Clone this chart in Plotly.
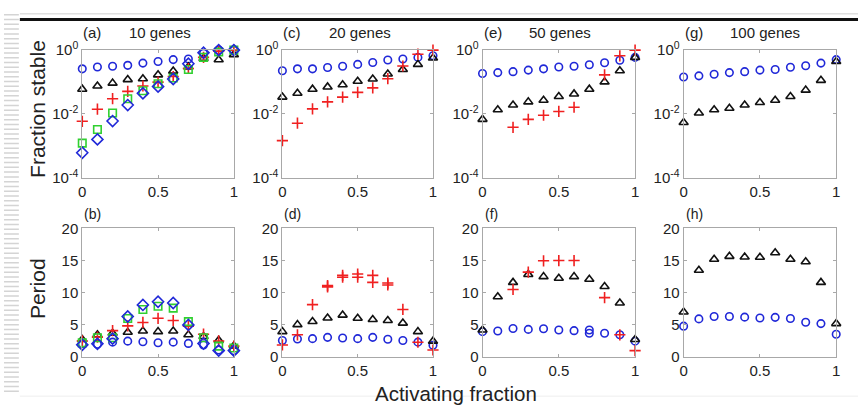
import plotly.graph_objects as go
from plotly.subplots import make_subplots

X = [0.0, 0.1, 0.2, 0.3, 0.4, 0.5, 0.6, 0.7, 0.8, 0.9, 1.0]

# Top row: fraction stable (log)
a_circ = [0.259, 0.297, 0.311, 0.333, 0.391, 0.438, 0.503, 0.526, 0.795, 1.0, 1.0]
a_tri = [0.0597, 0.0751, 0.0923, 0.119, 0.127, 0.168, 0.220, 0.297, 0.55, 0.50, 0.72]
a_plus = [0.0059, 0.0141, 0.030, 0.0508, 0.075, 0.099, 0.149, 0.265, 0.59, 0.93, 1.0]
a_sq = [0.00122, 0.00325, 0.0107, 0.030, 0.0532, 0.088, 0.133, 0.247, 0.59, 0.87, 1.0]
a_dia = [0.00061, 0.0016, 0.0060, 0.019, 0.0443, 0.0718, 0.124, 0.373, 0.83, 1.0, 1.0]

c_circ = [0.225, 0.259, 0.259, 0.284, 0.311, 0.357, 0.409, 0.492, 0.526, 0.59, 0.662]
c_tri = [0.0337, 0.0443, 0.0597, 0.0702, 0.0823, 0.106, 0.124, 0.179, 0.247, 0.357, 0.564]
c_plus = [0.00146, 0.00514, 0.0144, 0.0239, 0.0337, 0.0475, 0.0655, 0.127, 0.318, 0.743, 1.0]

e_circ = [0.184, 0.197, 0.211, 0.236, 0.259, 0.297, 0.311, 0.349, 0.40, 0.481, 0.59]
e_tri = [0.00678, 0.0135, 0.019, 0.0239, 0.0268, 0.0353, 0.0424, 0.0597, 0.101, 0.225, 0.59]
e_plus = [None, None, 0.00382, 0.00678, 0.0091, 0.012, 0.0162, None, 0.168, 0.662, 1.0]

g_circ = [0.143, 0.156, 0.175, 0.197, 0.211, 0.236, 0.247, 0.29, 0.325, 0.391, 0.503]
g_tri = [0.00539, 0.0107, 0.0135, 0.0151, 0.019, 0.0228, 0.0268, 0.0353, 0.0557, 0.113, 0.438]

# Bottom row: period
b_circ = [2.07, 1.98, 2.32, 2.47, 2.37, 2.22, 2.32, 2.12, 1.88, 1.09, 0.99]
b_tri = [2.72, 3.46, 3.7, 3.85, 4.05, 3.95, 4.05, 3.46, 3.2, 2.6, 1.73]
b_plus = [2.5, 3.1, 4.1, 4.84, 5.38, 6.02, 5.68, 4.8, 3.55, 2.5, 1.7]
b_sq = [2.2, 3.0, 3.0, 6.0, 7.4, 7.9, 7.6, 5.5, 3.0, 1.7, 1.4]
b_dia = [1.9, 2.07, 2.86, 6.3, 8.1, 8.6, 8.4, 5.0, 2.1, 1.0, 1.0]

d_circ = [2.57, 2.81, 2.86, 3.06, 2.96, 2.86, 3.06, 2.77, 2.57, 2.32, 1.83]
d_tri = [3.95, 5.04, 5.53, 6.07, 6.52, 6.02, 5.83, 5.68, 5.28, 3.95, 2.47]
d_plus = [1.88, 3.46, 8.15, 11.1, 12.7, 12.9, 12.7, 11.5, 7.4, 2.3, 1.1]
d_plus2 = [None, None, None, 10.9, 12.4, 12.4, 11.6, 11.2, None, None, None]

f_circ = [3.95, 4.05, 4.44, 4.3, 4.4, 4.2, 4.1, 4.2, 3.7, 3.46, 2.47]
f_circ2 = [None, None, None, None, None, None, None, 3.7, None, None, None]
f_tri = [4.2, 9.38, 11.6, 12.84, 12.5, 12.25, 12.5, 12.1, 10.96, 8.4, 2.72]
f_plus = [None, None, 10.5, 13.2, 14.96, 15.0, 15.0, None, 9.23, 3.46, 1.0]

h_circ = [4.8, 5.93, 6.3, 6.3, 6.2, 6.07, 6.17, 6.0, 5.4, 5.2, 3.55]
h_tri = [7.0, 13.5, 15.2, 15.65, 15.55, 15.5, 16.2, 15.2, 14.8, 11.6, 5.2]

top_titles = ["10 genes", "20 genes", "50 genes", "100 genes"]
top_letters = ["(a)", "(c)", "(e)", "(g)"]
bot_letters = ["(b)", "(d)", "(f)", "(h)"]

BLUE = "#2028d8"
RED = "#f02020"
BLACK = "#111111"
GREEN = "#30d030"

STY = {
    "circ": dict(symbol="circle-open", size=7.5, color=BLUE),
    "tri": dict(symbol="triangle-up-open", size=8, color=BLACK),
    "plus": dict(symbol="cross-thin-open", size=8, color=RED),
    "sq": dict(symbol="square-open", size=7.5, color=GREEN),
    "dia": dict(symbol="diamond-open", size=8.5, color=BLUE),
}

W, H = 862, 407
fig = make_subplots(rows=2, cols=4)

def add(row, col, ys, kind):
    s = STY[kind]
    fig.add_trace(go.Scatter(
        x=X, y=ys, mode="markers", cliponaxis=False, showlegend=False,
        marker=dict(symbol=s["symbol"], size=s["size"], color=s["color"],
                    line=dict(color=s["color"], width=1.6))), row=row, col=col)

panels_top = [
    [(a_circ, "circ"), (a_tri, "tri"), (a_plus, "plus"), (a_sq, "sq"), (a_dia, "dia")],
    [(c_circ, "circ"), (c_tri, "tri"), (c_plus, "plus")],
    [(e_circ, "circ"), (e_tri, "tri"), (e_plus, "plus")],
    [(g_circ, "circ"), (g_tri, "tri")],
]
panels_bot = [
    [(b_circ, "circ"), (b_tri, "tri"), (b_plus, "plus"), (b_sq, "sq"), (b_dia, "dia")],
    [(d_circ, "circ"), (d_tri, "tri"), (d_plus, "plus"), (d_plus2, "plus")],
    [(f_circ, "circ"), (f_circ2, "circ"), (f_tri, "tri"), (f_plus, "plus")],
    [(h_circ, "circ"), (h_tri, "tri")],
]
for ci, p in enumerate(panels_top):
    for ys, k in p:
        add(1, ci + 1, ys, k)
for ci, p in enumerate(panels_bot):
    for ys, k in p:
        add(2, ci + 1, ys, k)

# pixel geometry of plot areas
xdom_px = [(79, 232), (281, 433), (483, 637), (686, 840)]
top_px = (41, 175)
bot_px = (228, 363)

def px2x(p):
    return p / W

def px2y(p):
    return 1 - p / H

AX = dict(showline=True, linecolor="#a8a8a8", linewidth=1, mirror="ticks",
          ticks="inside", ticklen=3, tickcolor="#a8a8a8", showgrid=False,
          zeroline=False, tickfont=dict(family="Liberation Sans, Arial", size=15, color="#222"))

layout_updates = {}
for ci in range(4):
    x0, x1 = xdom_px[ci]
    for ri, (ypx) in enumerate([top_px, bot_px]):
        idx = ri * 4 + ci + 1
        xa = "xaxis" if idx == 1 else f"xaxis{idx}"
        ya = "yaxis" if idx == 1 else f"yaxis{idx}"
        layout_updates[xa] = dict(AX, domain=[px2x(x0), px2x(x1)], range=[0, 1],
                                  tickvals=[0, 0.5, 1], ticktext=["0", "0.5", "1"])
        if ri == 0:
            layout_updates[ya] = dict(AX, domain=[px2y(ypx[1]), px2y(ypx[0])], type="log",
                                      range=[-4, 0], tickvals=[1e-4, 1e-2, 1],
                                      ticktext=["10<sup>-4</sup>", "10<sup>-2</sup>", "10<sup>0</sup>"])
        else:
            layout_updates[ya] = dict(AX, domain=[px2y(ypx[1]), px2y(ypx[0])],
                                      range=[0, 20], tickvals=[0, 5, 10, 15, 20])
fig.update_layout(**layout_updates)

annos = []
TF = dict(family="Liberation Sans, Arial", color="#222")
for ci in range(4):
    x0 = xdom_px[ci][0]
    annos.append(dict(text=top_letters[ci], x=px2x(x0 - 1), y=px2y(23), xref="paper", yref="paper",
                      xanchor="left", yanchor="middle", showarrow=False, font=dict(TF, size=15)))
    annos.append(dict(text=top_titles[ci], x=px2x(x0 + 45), y=px2y(23), xref="paper", yref="paper",
                      xanchor="left", yanchor="middle", showarrow=False, font=dict(TF, size=15)))
    annos.append(dict(text=bot_letters[ci], x=px2x(x0), y=px2y(213), xref="paper", yref="paper",
                      xanchor="left", yanchor="middle", showarrow=False, font=dict(TF, size=14)))
annos.append(dict(text="Fraction stable", x=px2x(34), y=px2y(103), xref="paper", yref="paper",
                  xanchor="center", yanchor="middle",
                  textangle=-90, showarrow=False, font=dict(TF, size=21)))
annos.append(dict(text="Period", x=px2x(34), y=px2y(291), xref="paper", yref="paper",
                  xanchor="center", yanchor="middle",
                  textangle=-90, showarrow=False, font=dict(TF, size=21)))
annos.append(dict(text="Activating fraction", x=px2x(456), y=px2y(401), xref="paper", yref="paper",
                  xanchor="center", yanchor="middle",
                  showarrow=False, font=dict(TF, size=20.5)))

# slide decorations
shapes = []
stripe_path = " ".join(f"M0,{px2y(y):.5f} L{px2x(15):.5f},{px2y(y):.5f}" for y in range(4, 402, 5))
shapes.append(dict(type="path", path=stripe_path, xref="paper", yref="paper",
                   line=dict(color="#d4d4d4", width=1.5)))
shapes.append(dict(type="line", x0=px2x(16), x1=1, y0=px2y(3), y1=px2y(3), xref="paper", yref="paper",
                   line=dict(color="#cfcfcf", width=1)))
shapes.append(dict(type="line", x0=px2x(16), x1=1, y0=px2y(9), y1=px2y(9), xref="paper", yref="paper",
                   line=dict(color="#111111", width=3)))
shapes.append(dict(type="line", x0=px2x(16), x1=1, y0=px2y(404), y1=px2y(404), xref="paper", yref="paper",
                   line=dict(color="#eeeeee", width=1)))

fig.update_layout(width=W, height=H, autosize=False, margin=dict(l=0, r=0, t=0, b=0),
                  paper_bgcolor="white", plot_bgcolor="white", annotations=annos, shapes=shapes)

fig.write_html("out.html", config={"displayModeBar": False},
               post_script="document.body.style.margin='0';document.body.style.padding='0';document.body.style.overflow='hidden';")
